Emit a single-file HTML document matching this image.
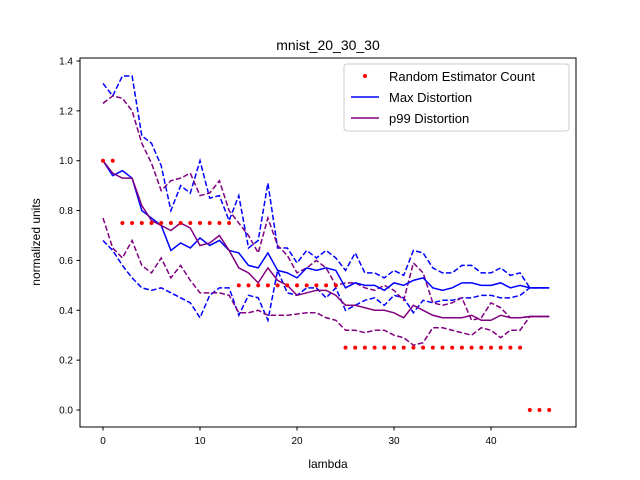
<!DOCTYPE html>
<html><head><meta charset="utf-8"><style>body{margin:0;background:#fff}svg{display:block;font-family:"Liberation Sans","DejaVu Sans",sans-serif}</style></head>
<body>
<svg id="chart" width="640" height="480">
<rect width="640" height="480" fill="#fff"/>
<text x="328" y="50" font-size="14" text-anchor="middle">mnist_20_30_30</text>
<text x="328" y="468" font-size="12" text-anchor="middle">lambda</text>
<text transform="translate(40,242) rotate(-90)" font-size="12" text-anchor="middle">normalized units</text>
<g id="ticks"></g>
<g id="marks"></g>
<rect x="80" y="58" width="496" height="369" fill="none" stroke="#000" stroke-width="1"/>
<g>
<rect x="344" y="64" width="225" height="67" rx="3" fill="#fff" fill-opacity="0.8" stroke="#ccc"/>
<g><circle cx="365" cy="76" r="2" fill="red"/><text x="389" y="81" font-size="13">Random Estimator Count</text></g>
<g><line x1="351" y1="97" x2="379" y2="97" stroke="blue" stroke-width="1.5"/><text x="389" y="102" font-size="13">Max Distortion</text></g>
<g><line x1="351" y1="118" x2="379" y2="118" stroke="purple" stroke-width="1.5"/><text x="389" y="123" font-size="13">p99 Distortion</text></g>
</g>
</svg>
<script>
const xTicks=[0,10,20,30,40];
const yTicks=[0.0,0.2,0.4,0.6,0.8,1.0,1.2,1.4];
const randomCount=[1,1,0.75,0.75,0.75,0.75,0.75,0.75,0.75,0.75,0.75,0.75,0.75,0.75,0.5,0.5,0.5,0.5,0.5,0.5,0.5,0.5,0.5,0.5,0.5,0.25,0.25,0.25,0.25,0.25,0.25,0.25,0.25,0.25,0.25,0.25,0.25,0.25,0.25,0.25,0.25,0.25,0.25,0.25,0,0,0];
const maxDist=[1.0,0.94,0.96,0.93,0.80,0.77,0.74,0.64,0.67,0.65,0.69,0.66,0.68,0.64,0.63,0.58,0.57,0.63,0.56,0.55,0.53,0.57,0.56,0.57,0.56,0.49,0.51,0.50,0.50,0.48,0.51,0.50,0.52,0.53,0.49,0.48,0.49,0.51,0.51,0.50,0.50,0.51,0.49,0.50,0.49,0.49,0.49];
const maxUpper=[1.31,1.26,1.34,1.34,1.10,1.07,0.98,0.80,0.90,0.87,1.00,0.85,0.86,0.76,0.86,0.65,0.68,0.91,0.65,0.65,0.59,0.64,0.61,0.64,0.61,0.56,0.63,0.55,0.55,0.53,0.56,0.54,0.64,0.63,0.57,0.55,0.55,0.58,0.58,0.55,0.55,0.57,0.54,0.55,0.49,0.49,0.49];
const maxLower=[0.68,0.64,0.58,0.53,0.49,0.48,0.49,0.47,0.45,0.43,0.37,0.46,0.49,0.49,0.38,0.46,0.45,0.36,0.56,0.47,0.46,0.49,0.49,0.45,0.49,0.40,0.42,0.44,0.45,0.42,0.46,0.45,0.39,0.44,0.43,0.44,0.44,0.45,0.45,0.46,0.46,0.45,0.45,0.46,0.49,0.49,0.49];
const p99Dist=[1.0,0.95,0.93,0.93,0.82,0.76,0.74,0.72,0.75,0.73,0.66,0.67,0.70,0.64,0.57,0.55,0.51,0.57,0.52,0.50,0.46,0.47,0.48,0.48,0.46,0.42,0.42,0.41,0.40,0.40,0.39,0.37,0.42,0.40,0.38,0.37,0.37,0.37,0.38,0.36,0.36,0.38,0.37,0.37,0.375,0.375,0.375];
const p99Upper=[1.23,1.26,1.25,1.20,1.07,0.99,0.88,0.92,0.93,0.95,0.86,0.87,0.92,0.80,0.75,0.70,0.63,0.77,0.66,0.62,0.55,0.57,0.60,0.57,0.50,0.51,0.51,0.49,0.48,0.50,0.48,0.44,0.59,0.55,0.43,0.42,0.43,0.45,0.36,0.37,0.43,0.41,0.37,0.37,0.375,0.375,0.375];
const p99Lower=[0.77,0.65,0.61,0.68,0.58,0.55,0.61,0.53,0.58,0.52,0.47,0.47,0.47,0.46,0.39,0.39,0.40,0.38,0.38,0.38,0.385,0.39,0.39,0.37,0.36,0.32,0.32,0.31,0.32,0.32,0.30,0.29,0.26,0.27,0.33,0.33,0.32,0.31,0.30,0.33,0.32,0.29,0.32,0.32,0.375,0.375,0.375];
const NS="http://www.w3.org/2000/svg";
function xs(x){return 103+9.7*x;}
function ys(v){return 410-249.3*v;}
const tg=document.getElementById('ticks'), mg=document.getElementById('marks');
function mk(t,a,p){const e=document.createElementNS(NS,t);for(const k in a)e.setAttribute(k,a[k]);p.appendChild(e);return e;}
xTicks.forEach(t=>{
  const l=mk('line',{x1:xs(t),x2:xs(t),y1:427,y2:430.5,stroke:'#000'},tg);
  
  
  const tx=mk('text',{x:xs(t),y:444,'font-size':10,'text-anchor':'middle'},tg);tx.textContent=t;
  
  
});
yTicks.forEach(t=>{
  const l=mk('line',{x1:76.5,x2:80,y1:ys(t),y2:ys(t),stroke:'#000'},tg);
  
  
  const tx=mk('text',{x:73,y:ys(t)+3.5,'font-size':10,'text-anchor':'end'},tg);tx.textContent=t.toFixed(1);
  
  
});
function line(arr,color,dash,name){
  const p=mk('polyline',{points:arr.map((v,i)=>xs(i)+','+ys(v)).join(' '),fill:'none',stroke:color,'stroke-width':1.5,'stroke-dasharray':dash?'5.5,2.4':'none'},mg);
  
  
}
line(maxUpper,'blue',true,'max-upper-band');
line(maxLower,'blue',true,'max-lower-band');
line(p99Upper,'purple',true,'p99-upper-band');
line(p99Lower,'purple',true,'p99-lower-band');
line(maxDist,'blue',false,'max-distortion-line');
line(p99Dist,'purple',false,'p99-distortion-line');
randomCount.forEach((v,i)=>{
  const c=mk('circle',{cx:xs(i),cy:ys(v),r:2,fill:'red'},mg);
  
  
});
</script>
</body></html>
